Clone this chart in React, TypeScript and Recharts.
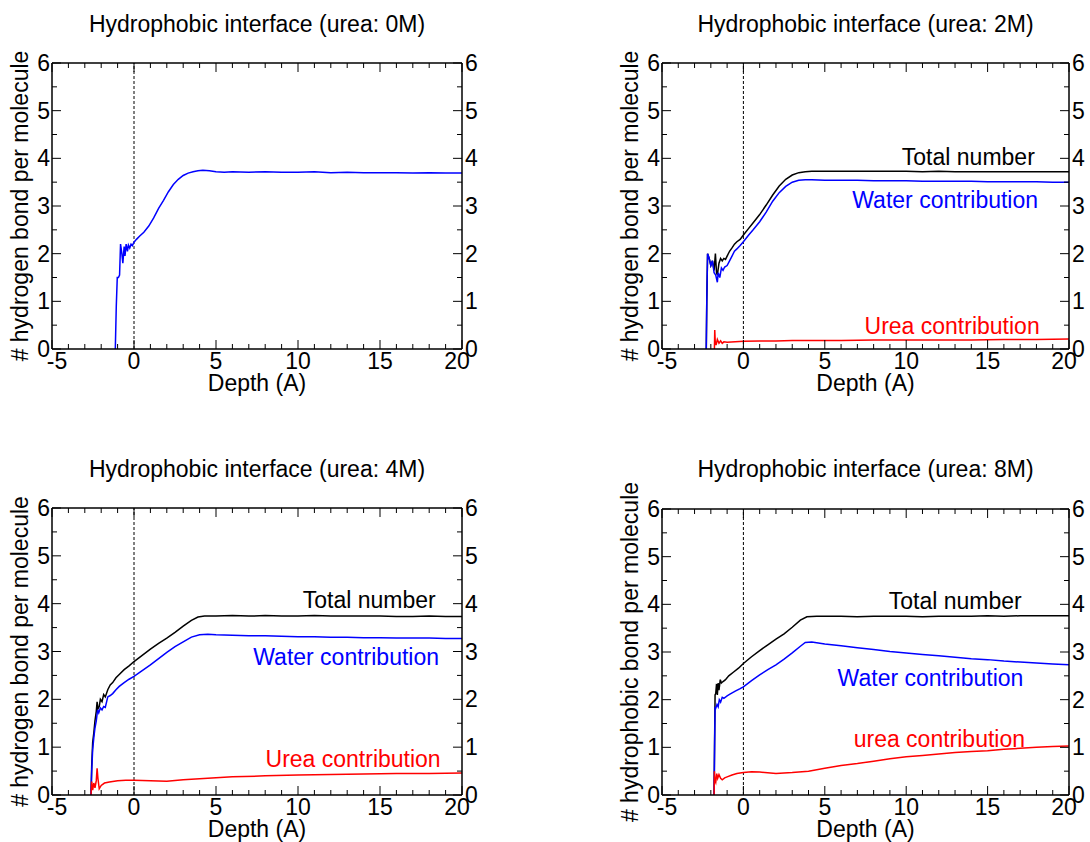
import React from "react";
import { LineChart, Line, XAxis, YAxis, ReferenceLine, ReferenceDot, Label } from "recharts";

const FONT = "'Liberation Sans', Arial, Helvetica, sans-serif";
const FS = 23;

// axis ticks (minor + major)
const xTicks = [-5, -4, -3, -2, -1, 0, 1, 2, 3, 4, 5, 6, 7, 8, 9, 10, 11, 12, 13, 14, 15, 16, 17, 18, 19, 20];
const xMajor = [-5, 0, 5, 10, 15, 20];
const yTicks = [0, 0.5, 1, 1.5, 2, 2.5, 3, 3.5, 4, 4.5, 5, 5.5, 6];
const yMajor = [0, 1, 2, 3, 4, 5, 6];

const titles = [
  "Hydrophobic interface (urea: 0M)",
  "Hydrophobic interface (urea: 2M)",
  "Hydrophobic interface (urea: 4M)",
  "Hydrophobic interface (urea: 8M)",
];
const yTitles = [
  "# hydrogen bond per molecule",
  "# hydrogen bond per molecule",
  "# hydrogen bond per molecule",
  "# hydrophobic bond per molecule",
];
const xTitle = "Depth (A)";

// ---- urea 0M ----
const water0Depth = [-1.14, -1.08, -1.02, -0.95, -0.88, -0.82, -0.74, -0.68, -0.6, -0.55, -0.48, -0.4, -0.34, -0.26, -0.18, -0.1, 0, 0.15, 0.35, 0.6, 0.9, 1.2, 1.5, 1.8, 2.1, 2.4, 2.7, 3.0, 3.3, 3.6, 3.9, 4.2, 4.6, 5, 5.5, 6, 7, 8, 9, 10, 11, 12, 13, 14, 15, 16, 17, 18, 19, 20];
const water0 = [0, 0.9, 1.5, 1.5, 1.55, 2.2, 2.0, 1.8, 2.15, 1.95, 2.2, 2.05, 2.18, 2.12, 2.2, 2.17, 2.24, 2.3, 2.37, 2.45, 2.58, 2.75, 2.95, 3.12, 3.3, 3.45, 3.56, 3.64, 3.69, 3.72, 3.74, 3.75, 3.74, 3.72, 3.71, 3.72, 3.71, 3.72, 3.71, 3.71, 3.72, 3.7, 3.71, 3.7, 3.7, 3.7, 3.69, 3.7, 3.69, 3.69];

// ---- urea 2M ----
const total2Depth = [-2.28, -2.25, -2.2, -2.1, -2.0, -1.9, -1.8, -1.72, -1.65, -1.6, -1.5, -1.4, -1.3, -1.2, -1.1, -1.0, -0.85, -0.7, -0.55, -0.4, -0.2, 0, 0.3, 0.6, 1.0, 1.4, 1.8, 2.2, 2.6, 3.0, 3.4, 3.8, 4.2, 5, 6, 7, 8, 9, 10, 11, 12, 13, 14, 15, 16, 17, 18, 19, 20];
const total2 = [0, 1.0, 2.0, 1.9, 1.75, 1.85, 1.65, 2.0, 1.6, 1.55, 1.8, 1.9, 1.85, 1.9, 1.88, 1.95, 2.05, 2.12, 2.2, 2.25, 2.3, 2.39, 2.52, 2.65, 2.82, 3.02, 3.23, 3.42, 3.56, 3.65, 3.7, 3.72, 3.73, 3.73, 3.73, 3.73, 3.73, 3.73, 3.73, 3.72, 3.73, 3.72, 3.72, 3.72, 3.72, 3.72, 3.72, 3.72, 3.72];
const water2Depth = [-2.28, -2.25, -2.2, -2.1, -2.0, -1.9, -1.8, -1.7, -1.6, -1.55, -1.45, -1.35, -1.25, -1.15, -1.0, -0.85, -0.7, -0.55, -0.4, -0.2, 0, 0.3, 0.6, 1.0, 1.4, 1.8, 2.2, 2.6, 3.0, 3.4, 3.8, 4.2, 5, 6, 7, 8, 9, 10, 11, 12, 13, 14, 15, 16, 17, 18, 19, 20];
const water2 = [0, 1.0, 2.0, 1.9, 1.75, 1.85, 1.6, 1.55, 1.4, 1.6, 1.5, 1.7, 1.65, 1.72, 1.75, 1.85, 1.95, 2.05, 2.1, 2.17, 2.25, 2.38, 2.5, 2.67, 2.87, 3.1, 3.28, 3.41, 3.5, 3.54, 3.55, 3.55, 3.54, 3.54, 3.54, 3.53, 3.53, 3.53, 3.52, 3.52, 3.52, 3.52, 3.51, 3.51, 3.51, 3.51, 3.5, 3.5];
const urea2Depth = [-1.78, -1.76, -1.73, -1.68, -1.6, -1.5, -1.4, -1.3, -1.2, -1.0, -0.5, 0, 1, 2, 3, 4, 5, 6, 8, 10, 12, 14, 16, 18, 20];
const urea2 = [0, 0.4, 0.15, 0.08, 0.2, 0.12, 0.17, 0.12, 0.15, 0.14, 0.15, 0.16, 0.17, 0.17, 0.18, 0.18, 0.18, 0.18, 0.19, 0.19, 0.19, 0.19, 0.2, 0.2, 0.21];

// ---- urea 4M ----
const total4Depth = [-2.62, -2.58, -2.52, -2.45, -2.38, -2.3, -2.25, -2.2, -2.12, -2.05, -1.95, -1.85, -1.75, -1.6, -1.45, -1.3, -1.1, -0.9, -0.6, -0.3, 0, 0.5, 1, 1.5, 2, 2.5, 3, 3.5, 3.9, 4.3, 5, 6, 7, 8, 9, 10, 11, 12, 13, 14, 15, 16, 17, 18, 19, 20];
const total4 = [0, 0.6, 1.1, 1.3, 1.55, 1.75, 1.95, 1.8, 1.85, 2.0, 1.95, 2.1, 2.05, 2.2, 2.3, 2.35, 2.45, 2.52, 2.62, 2.7, 2.79, 2.92, 3.05, 3.17, 3.28, 3.4, 3.53, 3.65, 3.72, 3.74, 3.74, 3.75, 3.74, 3.75, 3.74, 3.74, 3.75, 3.74, 3.74, 3.74, 3.74, 3.73, 3.73, 3.74, 3.73, 3.73];
const water4Depth = [-2.62, -2.58, -2.52, -2.45, -2.38, -2.3, -2.22, -2.15, -2.05, -1.95, -1.85, -1.75, -1.6, -1.45, -1.3, -1.1, -0.9, -0.6, -0.3, 0, 0.5, 1, 1.5, 2, 2.5, 3, 3.5, 4, 4.5, 5, 6, 7, 8, 9, 10, 11, 12, 13, 14, 15, 16, 17, 18, 19, 20];
const water4 = [0, 0.5, 0.95, 1.2, 1.4, 1.55, 1.78, 1.72, 1.82, 1.78, 1.85, 1.83, 2.05, 2.08, 2.12, 2.2, 2.27, 2.35, 2.42, 2.48, 2.6, 2.72, 2.85, 2.98, 3.1, 3.2, 3.3, 3.35, 3.36, 3.35, 3.34, 3.33, 3.33, 3.32, 3.31, 3.31, 3.3, 3.3, 3.29, 3.29, 3.28, 3.28, 3.28, 3.27, 3.27];
const urea4Depth = [-2.62, -2.58, -2.52, -2.45, -2.38, -2.3, -2.25, -2.2, -2.12, -2.0, -1.8, -1.5, -1.0, -0.5, 0, 1, 2, 3, 4, 5, 6, 8, 10, 12, 14, 16, 18, 20];
const urea4 = [0, 0.28, 0.1, 0.25, 0.15, 0.3, 0.56, 0.35, 0.13, 0.2, 0.25, 0.27, 0.3, 0.31, 0.31, 0.3, 0.29, 0.32, 0.34, 0.36, 0.38, 0.4, 0.42, 0.43, 0.44, 0.45, 0.45, 0.46];

// ---- urea 8M ----
const total8Depth = [-1.8, -1.77, -1.74, -1.7, -1.65, -1.6, -1.55, -1.5, -1.42, -1.35, -1.25, -1.1, -0.9, -0.6, -0.3, 0, 0.5, 1, 1.5, 2, 2.5, 3, 3.5, 3.9, 4.5, 5, 6, 7, 8, 9, 10, 11, 12, 13, 14, 15, 16, 17, 18, 19, 20];
const total8 = [0, 1.1, 2.1, 2.13, 2.33, 2.1, 2.35, 2.2, 2.42, 2.35, 2.38, 2.42, 2.5, 2.58, 2.66, 2.76, 2.9, 3.03, 3.15, 3.27, 3.38, 3.52, 3.67, 3.74, 3.75, 3.75, 3.75, 3.74, 3.75, 3.75, 3.75, 3.74, 3.75, 3.75, 3.75, 3.76, 3.75, 3.76, 3.76, 3.76, 3.76];
const water8Depth = [-1.8, -1.77, -1.74, -1.7, -1.62, -1.55, -1.48, -1.4, -1.3, -1.2, -1.0, -0.8, -0.5, -0.2, 0, 0.5, 1, 1.5, 2, 2.5, 3, 3.5, 3.8, 4.2, 5, 6, 7, 8, 9, 10, 11, 12, 13, 14, 15, 16, 17, 18, 19, 20];
const water8 = [0, 1.0, 1.85, 1.82, 1.9, 1.85, 2.0, 1.95, 2.05, 2.03, 2.08, 2.12, 2.18, 2.23, 2.27, 2.4, 2.52, 2.63, 2.73, 2.85, 2.98, 3.12, 3.2, 3.21, 3.17, 3.13, 3.09, 3.05, 3.01, 2.98, 2.95, 2.92, 2.89, 2.86, 2.84, 2.81, 2.79, 2.77, 2.75, 2.73];
const urea8Depth = [-1.8, -1.78, -1.75, -1.7, -1.64, -1.58, -1.5, -1.4, -1.3, -1.15, -1.0, -0.7, -0.4, 0, 0.5, 1, 2, 3, 4, 5, 6, 7, 8, 9, 10, 11, 12, 13, 14, 15, 16, 17, 18, 19, 20];
const urea8 = [0, 0.5, 0.3, 0.26, 0.45, 0.35, 0.43, 0.35, 0.32, 0.36, 0.38, 0.42, 0.45, 0.47, 0.49, 0.48, 0.45, 0.47, 0.5, 0.56, 0.62, 0.66, 0.71, 0.76, 0.8, 0.83, 0.86, 0.89, 0.91, 0.93, 0.96, 0.98, 1.0, 1.02, 1.03];

const BLACK = "#000000";
const BLUE = "#0000ff";
const RED = "#ff0000";

const zip = (d: number[], v: number[]) => d.map((x, i) => ({ d: x, v: v[i] }));

type Series = { key: string; color: string; data: { d: number; v: number }[] };
type Note = { text: string; color: string; x: number; y: number };

const panelSeries: Series[][] = [
  [{ key: "water", color: BLUE, data: zip(water0Depth, water0) }],
  [
    { key: "total", color: BLACK, data: zip(total2Depth, total2) },
    { key: "water", color: BLUE, data: zip(water2Depth, water2) },
    { key: "urea", color: RED, data: zip(urea2Depth, urea2) },
  ],
  [
    { key: "total", color: BLACK, data: zip(total4Depth, total4) },
    { key: "water", color: BLUE, data: zip(water4Depth, water4) },
    { key: "urea", color: RED, data: zip(urea4Depth, urea4) },
  ],
  [
    { key: "total", color: BLACK, data: zip(total8Depth, total8) },
    { key: "water", color: BLUE, data: zip(water8Depth, water8) },
    { key: "urea", color: RED, data: zip(urea8Depth, urea8) },
  ],
];

// in-plot labels (anchored at right end, vertical centre, data units)
const panelNotes: Note[][] = [
  [],
  [
    { text: "Total number", color: BLACK, x: 17.9, y: 4.03 },
    { text: "Water contribution", color: BLUE, x: 18.1, y: 3.12 },
    { text: "Urea contribution", color: RED, x: 18.2, y: 0.48 },
  ],
  [
    { text: "Total number", color: BLACK, x: 18.4, y: 4.07 },
    { text: "Water contribution", color: BLUE, x: 18.6, y: 2.89 },
    { text: "Urea contribution", color: RED, x: 18.7, y: 0.75 },
  ],
  [
    { text: "Total number", color: BLACK, x: 17.1, y: 4.07 },
    { text: "Water contribution", color: BLUE, x: 17.2, y: 2.45 },
    { text: "urea contribution", color: RED, x: 17.3, y: 1.17 },
  ],
];

const PANEL_W = 545;
const PANEL_H = 421;
const LEFT_W = 40;
const RIGHT_W = 20;
const TOP_H = 10;
const BOTTOM_H = 30;

// plot box of each panel (relative to the panel box)
const panelPos = [
  { left: 0, top: 0, plot: { top: 63, right: 83, bottom: 72, left: 52 } },
  { left: 545, top: 0, plot: { top: 63, right: 21, bottom: 72, left: 117 } },
  { left: 0, top: 445, plot: { top: 63, right: 83, bottom: 71, left: 52 } },
  { left: 545, top: 445, plot: { top: 64, right: 21, bottom: 71, left: 117 } },
];

type Side = "bottom" | "top" | "left" | "right";
const textStyle = { fontFamily: FONT, fontSize: FS, fill: "#000" };

const makeTick = (side: Side, labels: boolean) => (props: any) => {
  const { x, y, payload } = props;
  const v = payload.value as number;
  const horiz = side === "bottom" || side === "top";
  const major = horiz ? xMajor.includes(v) : yMajor.includes(v);
  const len = major ? 9 : 5;
  const ln = { stroke: "#000", strokeWidth: 1 };
  if (side === "bottom") {
    // end labels are pulled inward a little, as in the original plot
    const nudge = v === xMajor[0] ? 5 : v === xMajor[xMajor.length - 1] ? -5 : 0;
    return (
      <g>
        <line x1={x} y1={y} x2={x} y2={y - len} {...ln} />
        {labels && major && (
          <text x={x + nudge} y={y + 20} textAnchor="middle" style={textStyle}>{String(v)}</text>
        )}
      </g>
    );
  }
  if (side === "top")
    return (
      <g>
        <line x1={x} y1={y} x2={x} y2={y + len} {...ln} />
      </g>
    );
  if (side === "left")
    return (
      <g>
        <line x1={x} y1={y} x2={x + len} y2={y} {...ln} />
        {labels && major && (
          <text x={x - 2} y={y + 8} textAnchor="end" style={textStyle}>{String(v)}</text>
        )}
      </g>
    );
  return (
    <g>
      <line x1={x} y1={y} x2={x - len} y2={y} {...ln} />
      {labels && major && (
        <text x={x + 3} y={y + 8} textAnchor="start" style={textStyle}>{String(v)}</text>
      )}
    </g>
  );
};

const axisLine = { stroke: "#000", strokeWidth: 1.5 };

function Panel({ idx }: { idx: number }) {
  const pos = panelPos[idx];
  const plotW = PANEL_W - pos.plot.left - pos.plot.right;
  const margin = {
    top: pos.plot.top - TOP_H,
    right: pos.plot.right - RIGHT_W,
    bottom: pos.plot.bottom - BOTTOM_H,
    left: pos.plot.left - LEFT_W,
  };
  return (
    <div style={{ position: "absolute", left: pos.left, top: pos.top, width: PANEL_W, height: PANEL_H }}>
      <div
        style={{
          position: "absolute",
          left: pos.plot.left,
          width: plotW,
          top: 13,
          lineHeight: "23px",
          textAlign: "center",
          fontFamily: FONT,
          fontSize: FS,
          color: "#000",
          whiteSpace: "nowrap",
        }}
      >
        {titles[idx]}
      </div>
      <LineChart width={PANEL_W} height={PANEL_H} margin={margin}>
        <XAxis
          dataKey="d"
          type="number"
          domain={[-5, 20]}
          ticks={xTicks}
          interval={0}
          height={BOTTOM_H}
          tickSize={0}
          tickMargin={0}
          tickLine={false}
          axisLine={axisLine}
          tick={makeTick("bottom", true)}
          allowDataOverflow
        >
          <Label
            content={(p: any) => {
              const vb = p.viewBox;
              return (
                <text x={vb.x + vb.width / 2} y={vb.y + 42} textAnchor="middle" style={textStyle}>
                  {xTitle}
                </text>
              );
            }}
          />
        </XAxis>
        <XAxis
          xAxisId="top"
          orientation="top"
          dataKey="d"
          type="number"
          domain={[-5, 20]}
          ticks={xTicks}
          interval={0}
          height={TOP_H}
          tickSize={0}
          tickMargin={0}
          tickLine={false}
          axisLine={axisLine}
          tick={makeTick("top", false)}
          allowDataOverflow
        />
        <YAxis
          type="number"
          domain={[0, 6]}
          ticks={yTicks}
          interval={0}
          width={LEFT_W}
          tickSize={0}
          tickMargin={0}
          tickLine={false}
          axisLine={axisLine}
          tick={makeTick("left", true)}
          allowDataOverflow
        >
          <Label
            content={(p: any) => {
              const vb = p.viewBox;
              const cx = vb.x + vb.width - 24;
              const cy = vb.y + vb.height / 2;
              return (
                <text x={cx} y={cy} textAnchor="middle" transform={`rotate(-90, ${cx}, ${cy})`} style={textStyle}>
                  {yTitles[idx]}
                </text>
              );
            }}
          />
        </YAxis>
        <YAxis
          yAxisId="right"
          orientation="right"
          type="number"
          domain={[0, 6]}
          ticks={yTicks}
          interval={0}
          width={RIGHT_W}
          tickSize={0}
          tickMargin={0}
          tickLine={false}
          axisLine={axisLine}
          tick={makeTick("right", true)}
          allowDataOverflow
        />
        <ReferenceLine x={0} stroke="#000" strokeWidth={1} strokeDasharray="3 2" />
        {panelSeries[idx].map((s) => (
          <Line
            key={s.key}
            data={s.data}
            dataKey="v"
            type="linear"
            stroke={s.color}
            strokeWidth={1.5}
            dot={false}
            activeDot={false}
            isAnimationActive={false}
          />
        ))}
        {panelNotes[idx].map((n) => (
          <ReferenceDot
            key={n.text}
            x={n.x}
            y={n.y}
            r={0}
            shape={(p: any) => (
              <text x={p.cx} y={p.cy + 8} textAnchor="end" style={{ ...textStyle, fill: n.color }}>
                {n.text}
              </text>
            )}
          />
        ))}
      </LineChart>
    </div>
  );
}

export default function App() {
  return (
    <div style={{ position: "absolute", left: 0, top: 0, width: 1090, height: 842, background: "#fff" }}>
      {[0, 1, 2, 3].map((i) => (
        <Panel key={i} idx={i} />
      ))}
    </div>
  );
}
